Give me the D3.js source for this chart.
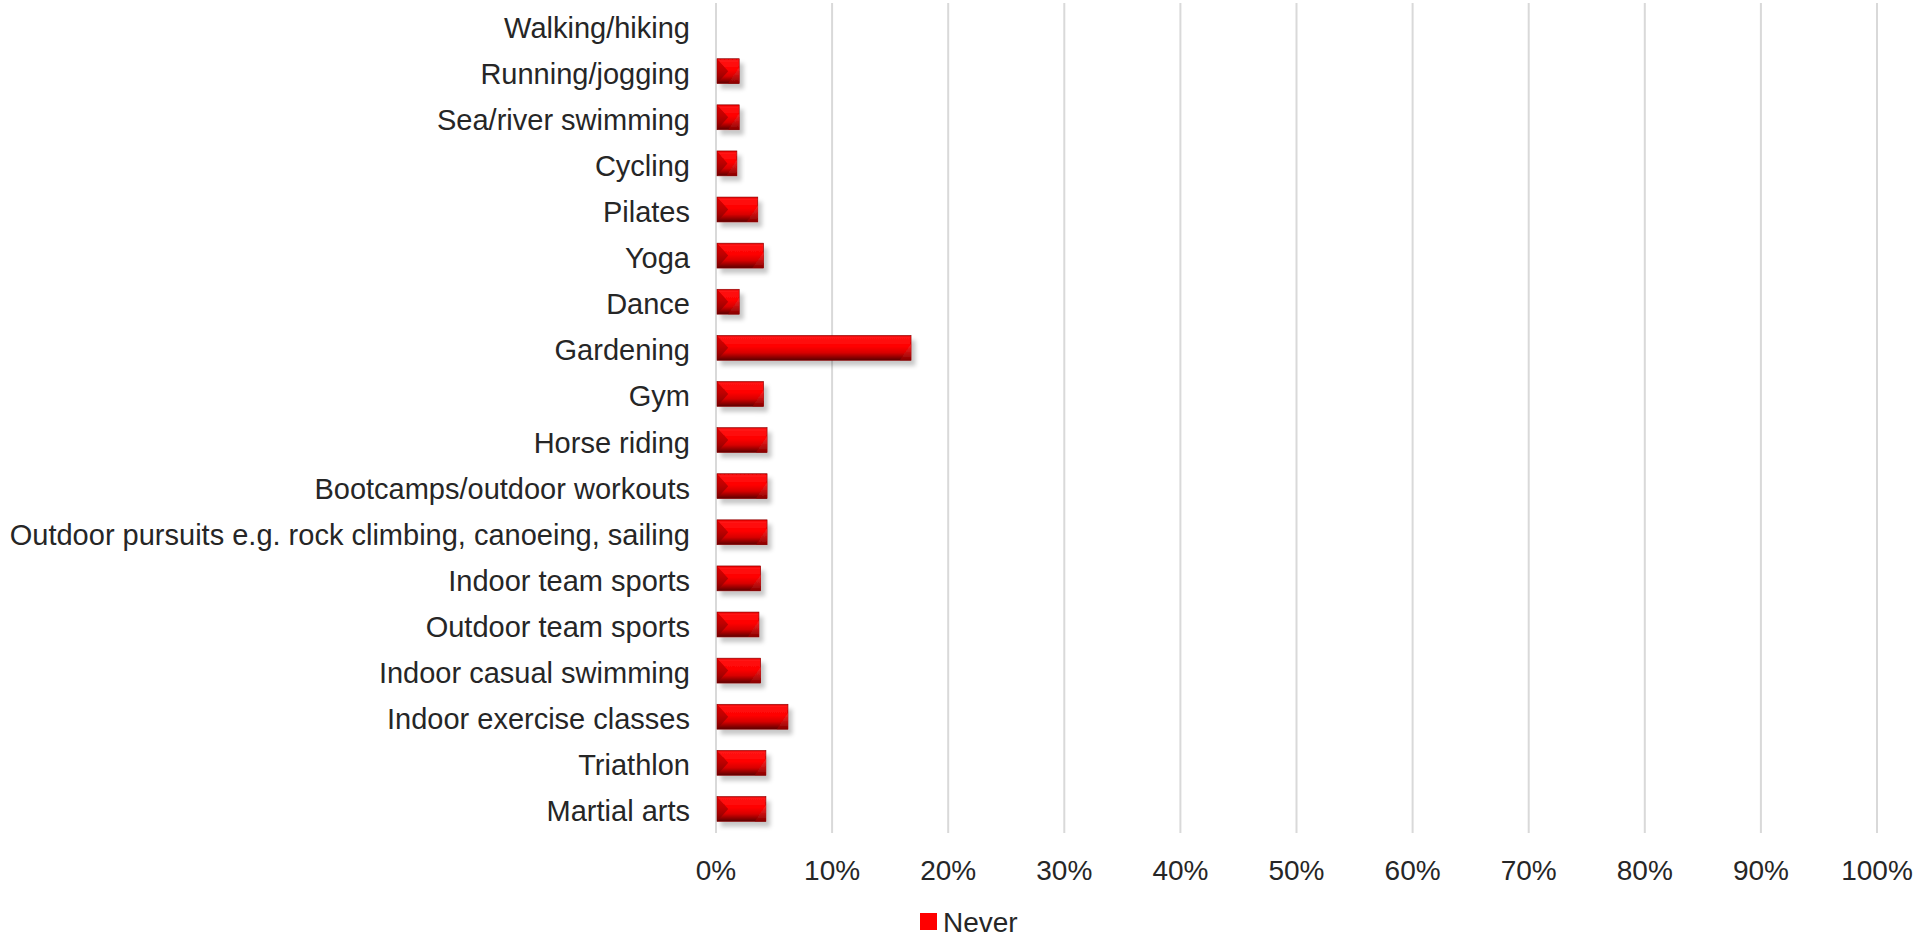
<!DOCTYPE html>
<html>
<head>
<meta charset="utf-8">
<script src="https://cdn.jsdelivr.net/npm/d3@7"></script>
<style>
  html, body { margin: 0; padding: 0; background: #fff; }
  svg { display: block; font-family: "Liberation Sans", Arial, sans-serif; }
</style>
</head>
<body>
<svg id="chart" width="1921" height="938"></svg>
<script>
// activities, top to bottom
const categories = [
  "Walking/hiking", "Running/jogging", "Sea/river swimming", "Cycling", "Pilates",
  "Yoga", "Dance", "Gardening", "Gym", "Horse riding", "Bootcamps/outdoor workouts",
  "Outdoor pursuits e.g. rock climbing, canoeing, sailing", "Indoor team sports",
  "Outdoor team sports", "Indoor casual swimming", "Indoor exercise classes",
  "Triathlon", "Martial arts"
];
// share answering "Never" (%)
const neverValues = [
  0, 2.0, 2.0, 1.8, 3.6,
  4.1, 2.0, 16.8, 4.1, 4.4, 4.4,
  4.4, 3.85,
  3.7, 3.85, 6.2,
  4.3, 4.3
];
const xTicks = [0, 10, 20, 30, 40, 50, 60, 70, 80, 90, 100];
const seriesName = "Never";

const svg = d3.select("#chart");
const defs = svg.append("defs");

const x = d3.scaleLinear().domain([0, 100]).range([716, 1877]);
const y = d3.scaleBand().domain(categories).range([2, 832]).paddingInner(0.46).paddingOuter(0.23);

// bar look: bright face, dark lower edge, soft shadow
const body = defs.append("linearGradient").attr("id", "barBody")
  .attr("x1", 0).attr("y1", 0).attr("x2", 0).attr("y2", 1);
body.append("stop").attr("offset", "0%").attr("stop-color", "#e00000");
body.append("stop").attr("offset", "8%").attr("stop-color", "#ff1414");
body.append("stop").attr("offset", "45%").attr("stop-color", "#ff0000");
body.append("stop").attr("offset", "70%").attr("stop-color", "#d80000");
body.append("stop").attr("offset", "100%").attr("stop-color", "#5a0000");

const endL = defs.append("linearGradient").attr("id", "barLeft")
  .attr("x1", 0).attr("y1", 0).attr("x2", 0).attr("y2", 1);
endL.append("stop").attr("offset", "0%").attr("stop-color", "#d00000");
endL.append("stop").attr("offset", "100%").attr("stop-color", "#7a0000");

const endR = defs.append("linearGradient").attr("id", "barRight")
  .attr("x1", 0).attr("y1", 0).attr("x2", 0).attr("y2", 1);
endR.append("stop").attr("offset", "0%").attr("stop-color", "#ff2a2a");
endR.append("stop").attr("offset", "100%").attr("stop-color", "#900000");

const shadow = defs.append("filter").attr("id", "shadow")
  .attr("x", "-20%").attr("y", "-30%").attr("width", "160%").attr("height", "180%");
shadow.append("feDropShadow").attr("dx", 4).attr("dy", 5).attr("stdDeviation", 2.2)
  .attr("flood-color", "#000").attr("flood-opacity", 0.22);

// gridlines
svg.append("g").selectAll("line").data(xTicks).join("line")
  .attr("x1", d => x(d)).attr("x2", d => x(d))
  .attr("y1", 3).attr("y2", 833)
  .attr("stroke", "#d9d9d9").attr("stroke-width", 2);

// x tick labels
svg.append("g").selectAll("text").data(xTicks).join("text")
  .attr("x", d => x(d)).attr("y", 880)
  .attr("text-anchor", "middle")
  .attr("font-size", 28).attr("fill", "#262626")
  .text(d => d + "%");

// category labels
svg.append("g").selectAll("text").data(categories).join("text")
  .attr("x", 690).attr("y", d => y(d) + y.bandwidth() / 2)
  .attr("dy", "0.43em")
  .attr("text-anchor", "end")
  .attr("font-size", 29).attr("fill", "#262626")
  .text(d => d);

// bars
const rows = categories.map((c, i) => ({ cat: c, v: neverValues[i] })).filter(d => d.v > 0);
const bars = svg.append("g").selectAll("g").data(rows).join("g")
  .attr("filter", "url(#shadow)");

bars.append("rect")
  .attr("x", x(0) + 1).attr("y", d => y(d.cat))
  .attr("width", d => x(d.v) - x(0) - 1).attr("height", y.bandwidth())
  .attr("fill", "url(#barBody)")
  .attr("stroke", "#8a0000").attr("stroke-width", 0.6);

// bevelled ends
function bevel(d) { return Math.min(y.bandwidth() * 0.45, (x(d.v) - x(0)) / 2); }
bars.append("path")
  .attr("fill", "url(#barLeft)").attr("opacity", 0.75)
  .attr("d", d => {
    const x0 = x(0) + 1, y0 = y(d.cat), h = y.bandwidth(), b = bevel(d);
    return `M${x0},${y0}L${x0 + b},${y0 + h / 2}L${x0},${y0 + h}Z`;
  });
bars.append("path")
  .attr("fill", "url(#barRight)").attr("opacity", 0.8)
  .attr("d", d => {
    const x1 = x(d.v), y0 = y(d.cat), h = y.bandwidth(), b = bevel(d);
    return `M${x1},${y0 + h * 0.35}L${x1 - b},${y0 + h}L${x1},${y0 + h}Z`;
  });

// legend (kept just inside the bottom edge)
const legend = svg.append("g").attr("transform", "translate(920,913)");
legend.append("rect").attr("width", 17).attr("height", 17).attr("fill", "#ff0000");
legend.append("text").attr("x", 23).attr("y", 19)
  .attr("font-size", 28).attr("fill", "#262626").text(seriesName);
</script>
</body>
</html>
